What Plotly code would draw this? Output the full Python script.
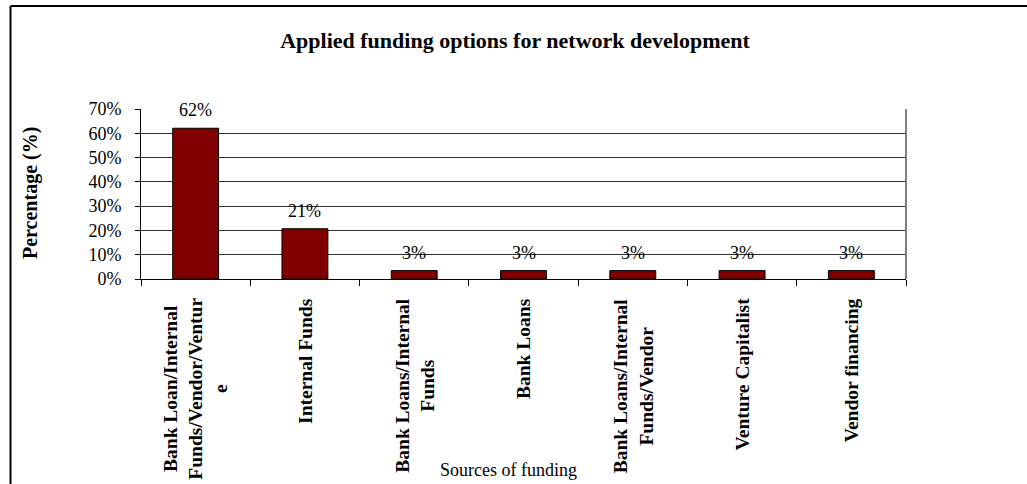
import plotly.graph_objects as go

# ---- data ----
categories = [
    "Bank Loan/Internal<br>Funds/Vendor/Ventur<br>e",
    "Internal Funds",
    "Bank Loans/Internal<br>Funds",
    "Bank Loans",
    "Bank Loans/Internal<br>Funds/Vendor",
    "Venture Capitalist",
    "Vendor financing",
]
values = [62.07, 20.69, 3.45, 3.45, 3.45, 3.45, 3.45]
value_labels = ["62%", "21%", "3%", "3%", "3%", "3%", "3%"]
y_tickvals = [0, 10, 20, 30, 40, 50, 60, 70]
y_ticktext = ["0%", "10%", "20%", "30%", "40%", "50%", "60%", "70%"]

W, H = 1027, 484
L, R, T, B = 141, 906, 109, 279
pw, ph = R - L, B - T


def px_x(px):
    return (px - L) / pw


def px_y(py):
    return (B - py) / ph


SERIF = "Liberation Serif, Times New Roman, serif"

fig = go.Figure()
fig.add_trace(go.Bar(
    x=categories, y=values,
    marker=dict(color="#800000", line=dict(color="black", width=1)),
    hoverinfo="skip",
))

annotations = []
for c, v, t in zip(categories, values, value_labels):
    annotations.append(dict(
        x=c, y=v, xref="x", yref="y", text=t, showarrow=False,
        yanchor="bottom", xanchor="center", yshift=6,
        font=dict(family=SERIF, size=18, color="black"),
    ))
for c in categories:
    annotations.append(dict(
        x=c, y=px_y(296), xref="x", yref="paper", text=c, showarrow=False,
        textangle=-90, xanchor="center", yanchor="top", align="center",
        font=dict(family=SERIF, size=19.5, color="black", weight="bold"),
    ))
annotations.append(dict(
    x=px_x(30), y=px_y(193), xref="paper", yref="paper", text="Percentage (%)",
    showarrow=False, textangle=-90, xanchor="center", yanchor="middle",
    font=dict(family=SERIF, size=20, color="black", weight="bold"),
))
annotations.append(dict(
    x=px_x(508), y=px_y(470), xref="paper", yref="paper", text="Sources of funding",
    showarrow=False, xanchor="center", yanchor="middle",
    font=dict(family=SERIF, size=18, color="black"),
))

shapes = [
    # plot-area right border
    dict(type="line", xref="paper", yref="paper", x0=1, x1=1, y0=0, y1=1,
         line=dict(color="#808080", width=2)),
    # outer chart frame (top and left)
    dict(type="line", xref="paper", yref="paper", x0=px_x(10.5), x1=px_x(1027),
         y0=px_y(6), y1=px_y(6), line=dict(color="black", width=2)),
    dict(type="line", xref="paper", yref="paper", x0=px_x(10.5), x1=px_x(10.5),
         y0=px_y(6), y1=px_y(495), line=dict(color="black", width=2)),
]

fig.update_layout(
    width=W, height=H,
    margin=dict(l=L, r=W - R, t=T, b=H - B),
    paper_bgcolor="white", plot_bgcolor="white",
    showlegend=False,
    bargap=0.58,
    title=dict(
        text="<b>Applied funding options for network development</b>",
        x=515 / W, xanchor="center", xref="container",
        y=1 - 40 / H, yanchor="middle", yref="container",
        font=dict(family=SERIF, size=22, color="black"),
    ),
    annotations=annotations,
    shapes=shapes,
)
fig.update_xaxes(
    type="category", showticklabels=False, ticks="outside", tickson="boundaries",
    ticklen=6, tickcolor="black", tickwidth=1,
    showline=True, linecolor="black", linewidth=1, showgrid=False,
)
fig.update_yaxes(
    range=[0, 70], tickvals=y_tickvals, ticktext=y_ticktext,
    ticks="outside", ticklen=5, tickcolor="black", tickwidth=1,
    ticklabelstandoff=10,
    tickfont=dict(family=SERIF, size=18, color="black"),
    showline=True, linecolor="black", linewidth=1,
    showgrid=True, gridcolor="#303030", gridwidth=1, zeroline=False,
)

fig.write_html("out.html")
